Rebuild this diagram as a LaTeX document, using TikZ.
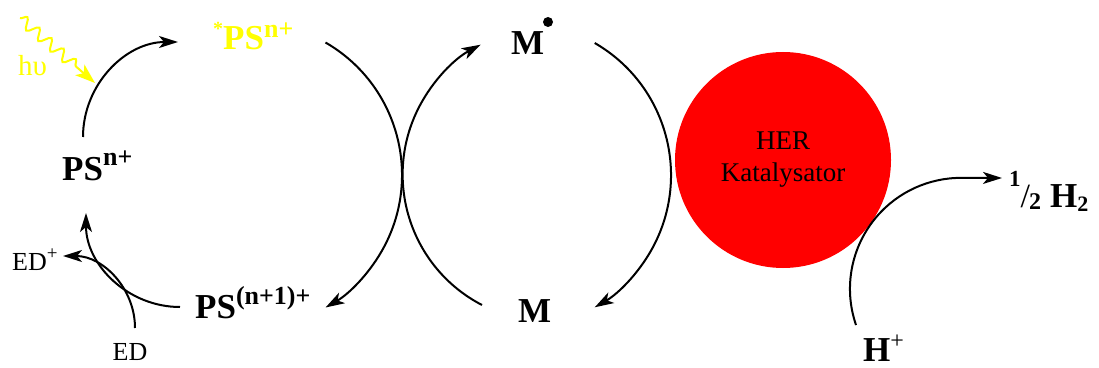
\documentclass[tikz,border=0pt]{standalone}
\usepackage{fontspec}
\setmainfont{Liberation Serif}
\usetikzlibrary{arrows.meta,decorations.pathmorphing}
\definecolor{ylw}{RGB}{255,255,0}
\definecolor{catred}{RGB}{255,0,0}
\newcommand\bigchem{\fontsize{35}{40}\selectfont\rmfamily\bfseries}
\newcommand\upx[2][15pt]{\raisebox{#1}{\fontsize{26}{26}\selectfont #2}}
\newcommand\smallfnt{\fontsize{26}{30}\selectfont\rmfamily}
\begin{document}
\begin{tikzpicture}[x=1pt,y=1pt,
  arr/.style={line width=2pt, -{Stealth[length=19pt,width=12pt,inset=5pt]}},
  lbl/.style={inner sep=0pt, anchor=base west},
  chem/.style={lbl, font=\bigchem},
  plain/.style={lbl, font=\smallfnt}]
\useasboundingbox (0,0) rectangle (1099,367);
% catalyst
\node[circle, fill=catred, minimum size=216pt, inner sep=0pt, align=center,
      font=\fontsize{27}{32}\selectfont\rmfamily] (cat) at (783,207) {HER\\Katalysator};
% species
\node[chem] (ps) at (62,186) {PS\upx{n+}};
\node[chem, text=ylw] (psx) at (223,317) {\llap{\upx[14pt]{\fontsize{20}{20}\selectfont *}}PS\upx[12pt]{n+}};
\node[chem] (ps1) at (195,49) {PS\upx[14pt]{(n+1)+}};
\node[chem] (mr) at (511,312) {M};
\fill (548,345) circle[radius=5];
\node[chem] (m) at (518,45) {M};
\node[plain] (edp) at (12,97) {ED\upx[11pt]{\fontsize{19}{19}\selectfont +}};
\node[plain, anchor=base] (ed) at (130,7) {ED};
\node[lbl, font=\fontsize{29}{30}\selectfont\rmfamily, text=ylw] (hv) at (18,291) {hυ};
\node[chem] (h2) at (1009,159) {\upx[21pt]{\fontsize{23}{23}\selectfont 1}{\mdseries\fontsize{34}{34}\selectfont /}\kern-1pt\upx[-2pt]{\fontsize{24}{24}\selectfont 2}\kern9pt H\upx[-4pt]{\fontsize{22}{22}\selectfont 2}};
\node[chem] (hp) at (863,6) {H\upx[13pt]{\mdseries\fontsize{24}{24}\selectfont +}};
% arc start coordinates
\coordinate (a1) at (83,230);
\coordinate (a2) at (180,60);
\coordinate (a3) at (135,39);
\coordinate (a4) at (325.5,324.5);
\coordinate (a5) at (482,62);
\coordinate (a6) at (594.7,324);
\coordinate (a7) at (856,42);
\coordinate (w1) at (20,349);
\coordinate (w2) at (95,284);
% arcs
\draw[arr] (a1) arc[start angle=180, end angle=90, radius=95];
\draw[arr] (a2) arc[start angle=270, end angle=180, radius=94];
\draw[arr] (a3) arc[start angle=0, end angle=90, radius=72];
\draw[arr] (a4) arc[start angle=60, end angle=-60, radius=153];
\draw[arr] (a5) arc[start angle=242.6, end angle=118, radius=147];
\draw[arr] (a6) arc[start angle=60, end angle=-60, radius=152.6];
\draw[arr] (a7) arc[start angle=199, end angle=90, radius=111] -- (1002,189);
% light
\draw[ylw, line width=2pt, -{Stealth[length=20pt,width=14pt,inset=5pt]},
      decorate, decoration={snake, amplitude=5.5pt, segment length=16pt, post length=20pt}]
      (w1) -- (w2);
\end{tikzpicture}
\end{document}
